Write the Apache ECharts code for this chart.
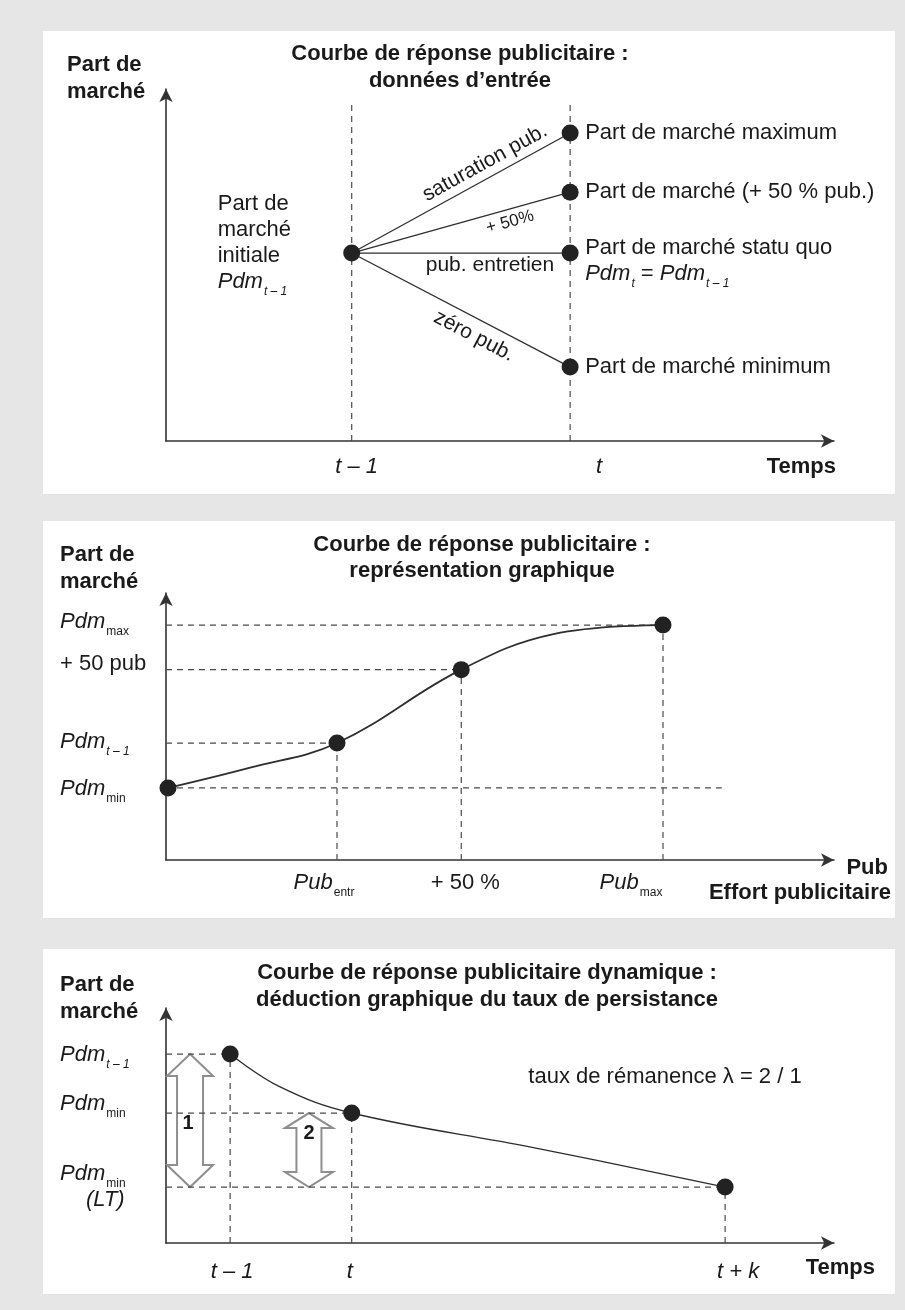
<!DOCTYPE html>
<html><head><meta charset="utf-8">
<script src="https://cdn.jsdelivr.net/npm/echarts@6/dist/echarts.min.js"></script>
<style>html,body{margin:0;padding:0;background:#e6e6e6;}#chart{width:905px;height:1310px;}</style>
</head><body><div id="chart"></div>
<script>
// ===================== DATA =====================
const panelTitles = [
  ['Courbe de réponse publicitaire :', 'données d’entrée'],
  ['Courbe de réponse publicitaire :', 'représentation graphique'],
  ['Courbe de réponse publicitaire dynamique :', 'déduction graphique du taux de persistance']
];
const yAxisName = ['Part de', 'marché'];
const xAxisNames = [['Temps'], ['Pub', 'Effort publicitaire'], ['Temps']];

// Panel 1 : données d'entrée
const p1TimeTicks = ['t – 1', 't'];
const p1TimeX = [27.8, 60.5];
const p1StartY = 53.4;
const p1OutcomeY = [87.5, 70.7, 53.4, 21.0];
const p1Branches = ['saturation pub.', '+ 50%', 'pub. entretien', 'zéro pub.'];
const p1Outcomes = ['Part de marché maximum', 'Part de marché (+ 50 % pub.)', 'Part de marché statu quo', 'Part de marché minimum'];
const p1StartLabel = ['Part de', 'marché', 'initiale', 'Pdm_t – 1'];
const p1GuideTop = 96;

// Panel 2 : représentation graphique
const p2Ticks = ['Pub_entr', '+ 50 %', 'Pub_max'];
const p2TickX = [25.6, 44.2, 74.4];
const p2Levels = ['Pdm_max', '+ 50 pub', 'Pdm_t – 1', 'Pdm_min'];
const p2LevelY = [88.0, 71.3, 43.8, 27.0];
const p2CurveX = [0.3, 12.6, 25.6, 44.2, 58.0, 74.4];
const p2CurveY = [27.0, 34.6, 43.8, 71.3, 84.6, 88.0];
const p2DotIdx = [0, 2, 3, 5];
const p2MinGuideEnd = 83.2;

// Panel 3 : courbe dynamique
const p3Ticks = ['t – 1', 't', 't + k'];
const p3TickX = [9.6, 27.8, 83.7];
const p3Levels = ['Pdm_t – 1', 'Pdm_min', 'Pdm_min\n(LT)'];
const p3LevelY = [80.4, 55.3, 23.8];
const p3CurveX = [9.6, 17.0, 27.8, 55.0, 83.7];
const p3CurveY = [80.4, 66.5, 55.3, 40.6, 23.8];
const p3DotIdx = [0, 2, 4];
const p3ArrowNames = ['1', '2'];
const p3ArrowX = [3.6, 21.4];
const p3ArrowFrom = [80.4, 55.3];
const p3ArrowTo = [23.8, 23.8];
const p3Note = 'taux de rémanence λ = 2 / 1';

// ===================== STYLE / LAYOUT =====================
const FONT = '"Liberation Sans", Arial, Helvetica, sans-serif';
const TXT = '#1a1a1a';
const LINE = '#2e2e2e';
const GUIDE = '#4a4a4a';
const grids = [
  {left: 166, top: 89, width: 668, height: 352},
  {left: 166, top: 593, width: 668, height: 267},
  {left: 166, top: 1008, width: 668, height: 235}
];
const panels = [
  {x: 43, y: 31, w: 852, h: 463, titleX: 460, titleY: [54, 81], nameX: 67, nameY: [65, 92]},
  {x: 43, y: 521, w: 852, h: 397, titleX: 482, titleY: [545, 571], nameX: 60, nameY: [555, 582]},
  {x: 43, y: 949, w: 852, h: 345, titleX: 487, titleY: [973, 1000], nameX: 60, nameY: [985, 1012]}
];
const xNamePos = [[[836, 467]], [[888, 868], [891, 893]], [[875, 1268]]];

const p1TickOff = [[5, 26], [29, 26]];
const p1BranchAt = [[47.75, 79.0], [51.5, 62.2], [48.5, 50.0], [46.1, 29.8]];
const p1BranchRot = [28.8, 15.6, 0, -27.6];
const p1BranchSize = [21, 17, 21, 21];
const p2TickOff = [[-13, 23], [4, 23], [-32, 23]];
const p2LevelDy = [-3, -6, -1, 1];
const p3TickOff = [[2, 29], [-2, 29], [13, 29]];
const p3LevelDy = [1, -9, 0];
const arrowGeom = [
  {head: 23, shaft: 13, len: 22, lx: -2, ly: 69},
  {head: 24, shaft: 12.5, len: 15, lx: 0, ly: 20}
];

const rich = {
  n: {fontFamily: FONT, fontSize: 22, color: TXT, lineHeight: 26},
  it: {fontFamily: FONT, fontSize: 22, fontStyle: 'italic', color: TXT, lineHeight: 26},
  s: {fontFamily: FONT, fontSize: 12, color: TXT, lineHeight: 12, padding: [19, 0, 0, 1]},
  si: {fontFamily: FONT, fontSize: 12, fontStyle: 'italic', color: TXT, lineHeight: 12, padding: [19, 0, 0, 1]},
  lt: {fontFamily: FONT, fontSize: 22, fontStyle: 'italic', color: TXT, lineHeight: 26, padding: [0, 0, 0, 26]}
};

function fmt(str, italicPlain) {
  return str.split('\n').map(line => {
    if (line.charAt(0) === '(') return '{lt|' + line + '}';
    const k = line.indexOf('_');
    if (k < 0) return '{' + (italicPlain ? 'it' : 'n') + '|' + line + '}';
    const main = line.slice(0, k), sub = line.slice(k + 1);
    return '{it|' + main + '}{' + (sub.charAt(0) === 't' ? 'si' : 's') + '|' + sub + '}';
  }).join('\n');
}

function axes() {
  return grids.map((g, i) => ({
    gridIndex: i, type: 'value', min: 0, max: 100,
    axisLine: {show: true, onZero: false, symbol: ['none', 'arrow'], symbolSize: [10, 13],
      lineStyle: {color: '#333', width: 1.6}},
    axisTick: {show: false}, axisLabel: {show: false}, splitLine: {show: false}
  }));
}

function guide(gi, pts) {
  return {type: 'line', xAxisIndex: gi, yAxisIndex: gi, data: pts, symbol: 'none', silent: true, z: 3,
    lineStyle: {color: GUIDE, width: 1.2, type: [6, 5]}, animation: false};
}
function solid(gi, pts, w, smooth) {
  return {type: 'line', xAxisIndex: gi, yAxisIndex: gi, data: pts, symbol: 'none', silent: true, z: 4,
    smooth: smooth || false, lineStyle: {color: LINE, width: w}, animation: false};
}
function dots(gi, pts) {
  return {type: 'scatter', xAxisIndex: gi, yAxisIndex: gi, data: pts, symbol: 'circle', symbolSize: 17,
    clip: false, silent: true, z: 5, itemStyle: {color: '#222', opacity: 1}, animation: false};
}
function labels(gi, items) {
  return {type: 'scatter', xAxisIndex: gi, yAxisIndex: gi, symbolSize: 1, clip: false, silent: true, z: 6,
    itemStyle: {color: 'rgba(0,0,0,0)', opacity: 1}, animation: false,
    data: items.map(it => ({value: it.at, label: {show: true, position: 'inside', formatter: it.text,
      offset: it.off || [0, 0], rotate: it.rot || 0, align: it.align || 'center', verticalAlign: 'middle',
      rich: rich, fontFamily: FONT, fontSize: it.size || 22, color: TXT, opacity: 1,
      textBorderWidth: 0}}))};
}

// ===================== SERIES =====================
const series = [];
// ---- Panel 1
p1TimeX.forEach(x => series.push(guide(0, [[x, 0], [x, p1GuideTop]])));
p1OutcomeY.forEach(y => series.push(solid(0, [[p1TimeX[0], p1StartY], [p1TimeX[1], y]], 1.3)));
series.push(dots(0, [[p1TimeX[0], p1StartY]].concat(p1OutcomeY.map(y => [p1TimeX[1], y]))));
series.push(labels(0, [
  {at: [p1TimeX[0], p1StartY], text: p1StartLabel.map(s => fmt(s)).join('\n'), align: 'left', off: [-134, -10]}
].concat(p1Outcomes.map((o, i) => ({
  at: [p1TimeX[1], p1OutcomeY[i]], align: 'left', off: i === 2 ? [15, 8] : [15, 0],
  text: i === 2 ? '{n|' + o + '}\n{it|Pdm}{si|t}{n| = }{it|Pdm}{si|t – 1}' : '{n|' + o + '}'
}))).concat(p1Branches.map((b, i) => ({
  at: p1BranchAt[i], rot: p1BranchRot[i], size: p1BranchSize[i], text: b
}))).concat(p1TimeTicks.map((t, i) => ({
  at: [p1TimeX[i], 0], off: p1TickOff[i], text: fmt(t, true)
})))));

// ---- Panel 2
const p2Ends = [p2TickX[2], p2TickX[1], p2TickX[0], p2MinGuideEnd];
p2LevelY.forEach((y, i) => series.push(guide(1, [[0, y], [p2Ends[i], y]])));
const p2TickTop = [p2LevelY[2], p2LevelY[1], p2LevelY[0]];
p2TickX.forEach((x, i) => series.push(guide(1, [[x, 0], [x, p2TickTop[i]]])));
series.push(solid(1, p2CurveX.map((x, i) => [x, p2CurveY[i]]), 1.8, 0.4));
series.push(dots(1, p2DotIdx.map(k => [p2CurveX[k], p2CurveY[k]])));
series.push(labels(1, p2Levels.map((l, i) => ({
  at: [0, p2LevelY[i]], align: 'left', off: [-106, p2LevelDy[i]], text: fmt(l)
})).concat(p2Ticks.map((t, i) => ({
  at: [p2TickX[i], 0], off: p2TickOff[i], text: fmt(t)
})))));

// ---- Panel 3
series.push({
  type: 'custom', xAxisIndex: 2, yAxisIndex: 2, z: 2, silent: true, animation: false,
  data: p3ArrowX.map((x, i) => [x, p3ArrowFrom[i], p3ArrowTo[i]]),
  renderItem: function (params, api) {
    const g = arrowGeom[params.dataIndex];
    const a = api.coord([api.value(0), api.value(1)]);
    const b = api.coord([api.value(0), api.value(2)]);
    const cx = a[0], y1 = a[1], y2 = b[1];
    const pts = [[cx, y1], [cx + g.head, y1 + g.len], [cx + g.shaft, y1 + g.len], [cx + g.shaft, y2 - g.len],
      [cx + g.head, y2 - g.len], [cx, y2], [cx - g.head, y2 - g.len], [cx - g.shaft, y2 - g.len],
      [cx - g.shaft, y1 + g.len], [cx - g.head, y1 + g.len]];
    return {type: 'group', children: [
      {type: 'polygon', shape: {points: pts}, style: {fill: '#fff', stroke: '#8e8e8e', lineWidth: 2}},
      {type: 'text', x: cx + g.lx, y: y1 + g.ly, style: {text: p3ArrowNames[params.dataIndex],
        font: 'bold 20px ' + FONT, fill: TXT, align: 'center', verticalAlign: 'middle'}}
    ]};
  }
});
const p3Ends = [p3TickX[0], p3TickX[1], p3TickX[2]];
p3LevelY.forEach((y, i) => series.push(guide(2, [[0, y], [p3Ends[i], y]])));
p3TickX.forEach((x, i) => series.push(guide(2, [[x, 0], [x, p3LevelY[i]]])));
series.push(solid(2, p3CurveX.map((x, i) => [x, p3CurveY[i]]), 1.4, 0.4));
series.push(dots(2, p3DotIdx.map(k => [p3CurveX[k], p3CurveY[k]])));
series.push(labels(2, p3Levels.map((l, i) => ({
  at: [0, p3LevelY[i]], align: 'left', off: [-106, p3LevelDy[i]], text: fmt(l)
})).concat(p3Ticks.map((t, i) => ({
  at: [p3TickX[i], 0], off: p3TickOff[i], text: fmt(t, true)
})))));

// ===================== GRAPHIC (panels & titles) =====================
const graphic = [];
panels.forEach((p, i) => {
  graphic.push({type: 'rect', z: -10, silent: true, shape: {x: p.x, y: p.y, width: p.w, height: p.h}, style: {fill: '#fff'}});
  panelTitles[i].forEach((t, j) => graphic.push({type: 'text', silent: true, x: p.titleX, y: p.titleY[j],
    style: {text: t, font: 'bold 22px ' + FONT, fill: TXT, textAlign: 'center', textVerticalAlign: 'middle'}}));
  yAxisName.forEach((t, j) => graphic.push({type: 'text', silent: true, x: p.nameX, y: p.nameY[j],
    style: {text: t, font: 'bold 22px ' + FONT, fill: TXT, textAlign: 'left', textVerticalAlign: 'middle'}}));
  xAxisNames[i].forEach((t, j) => graphic.push({type: 'text', silent: true, x: xNamePos[i][j][0], y: xNamePos[i][j][1],
    style: {text: t, font: 'bold 22px ' + FONT, fill: TXT, textAlign: 'right', textVerticalAlign: 'middle'}}));
});
graphic.push({type: 'text', silent: true, x: 665, y: 1077,
  style: {text: p3Note, font: '22px ' + FONT, fill: TXT, textAlign: 'center', textVerticalAlign: 'middle'}});

const chart = echarts.init(document.getElementById('chart'), null, {renderer: 'canvas'});
chart.setOption({
  backgroundColor: '#e6e6e6',
  animation: false,
  grid: grids,
  xAxis: axes(),
  yAxis: axes(),
  graphic: graphic,
  series: series
});
</script>
</body></html>
